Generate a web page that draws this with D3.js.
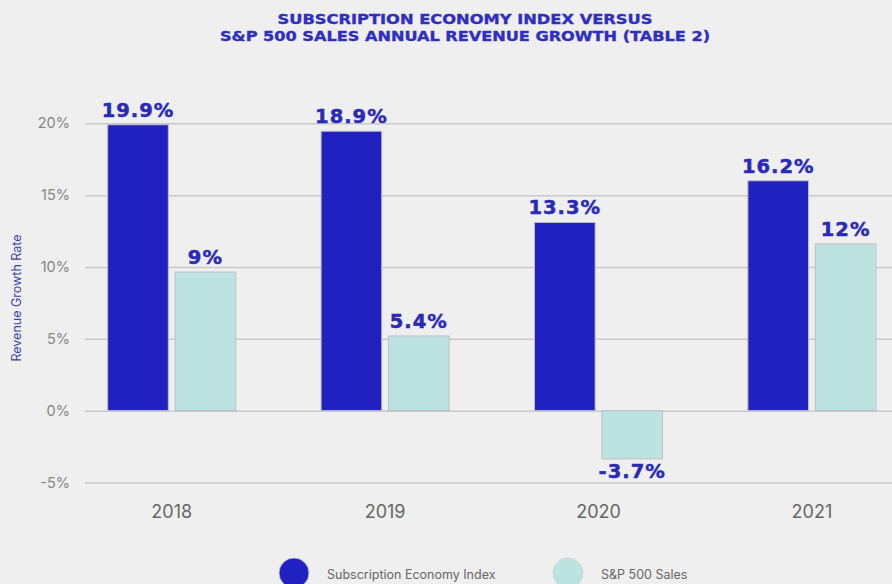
<!DOCTYPE html>
<html>
<head>
<meta charset="utf-8">
<script src="https://cdn.jsdelivr.net/npm/d3@7"></script>
<style>
  body { margin: 0; background: #efefef; }
  svg { display: block; }
</style>
</head>
<body>
<svg width="892" height="584"></svg>
<script>
// values (bar heights) and the printed labels
var years = ["2018", "2019", "2020", "2021"];
var seriesNames = ["Subscription Economy Index", "S&P 500 Sales"];
var seiValues = [19.9, 19.45, 13.1, 16.0];
var spValues = [9.65, 5.2, -3.35, 11.6];
var seiLabels = ["19.9%", "18.9%", "13.3%", "16.2%"];
var spLabels = ["9%", "5.4%", "-3.7%", "12%"];
var yTicks = [-5, 0, 5, 10, 15, 20];
var titleLines = ["SUBSCRIPTION ECONOMY INDEX VERSUS", "S&P 500 SALES ANNUAL REVENUE GROWTH (TABLE 2)"];

var colors = { "Subscription Economy Index": "#2121c2", "S&P 500 Sales": "#bde3e0" };

var rows = years.map(function(yr, i) {
  return { year: yr, vals: [
    { key: seriesNames[0], value: seiValues[i], label: seiLabels[i] },
    { key: seriesNames[1], value: spValues[i], label: spLabels[i] }
  ]};
});

var svg = d3.select("svg");

var x0 = d3.scaleBand()
  .domain(years)
  .range([65, 918.6])
  .paddingInner(0.4)
  .paddingOuter(0.2);

var x1 = d3.scaleBand()
  .domain(seriesNames)
  .range([0, x0.bandwidth()])
  .paddingInner(0.1);

var y = d3.scaleLinear()
  .domain([-5, 20])
  .range([482.5, 123.3]);

// title
svg.append("g")
  .selectAll("text")
  .data(titleLines)
  .enter().append("text")
   .attr("x", 465)
   .attr("y", function(d, i) { return 24 + i * 17; })
   .attr("text-anchor", "middle")
   .attr("font-family", "DejaVu Sans")
   .attr("font-weight", "bold")
   .attr("font-size", 13.5)
   .attr("fill", "#2e2ec0")
   .attr("stroke", "#2e2ec0")
   .attr("stroke-width", 0.35)
   .attr("textLength", function(d, i) { return i == 0 ? 375 : 490; })
   .attr("lengthAdjust", "spacingAndGlyphs")
   .text(function(d) { return d; });

// y axis + grid
var yAxis = svg.append("g")
  .attr("transform", "translate(85,0)")
  .call(d3.axisLeft(y).tickValues(yTicks).tickSizeInner(-807).tickSizeOuter(0).tickPadding(15)
    .tickFormat(function(d) { return d + "%"; }));
yAxis.select(".domain").remove();
yAxis.selectAll(".tick line").attr("stroke", "#c9c9c9").attr("stroke-width", 1.5);
yAxis.selectAll(".tick text")
  .attr("font-family", "Inter")
  .attr("font-size", 14.5)
  .attr("fill", "#858585");

svg.append("text")
  .attr("transform", "translate(21,298) rotate(-90)")
  .attr("text-anchor", "middle")
  .attr("font-family", "Inter")
  .attr("font-size", 12.5)
  .attr("fill", "#3f3fae")
  .text("Revenue Growth Rate");

// bars
var groups = svg.append("g")
  .selectAll("g")
  .data(rows)
  .enter().append("g")
   .attr("transform", function(d) { return "translate(" + x0(d.year) + ",0)"; });

groups.selectAll("rect")
  .data(function(d) { return d.vals; })
  .enter().append("rect")
   .attr("x", function(d) { return x1(d.key); })
   .attr("y", function(d) { return y(Math.max(0, d.value)); })
   .attr("width", x1.bandwidth())
   .attr("height", function(d) { return Math.abs(y(d.value) - y(0)); })
   .attr("fill", function(d) { return colors[d.key]; })
   .attr("stroke", "#bfbfc8")
   .attr("stroke-width", 1);

groups.selectAll("text")
  .data(function(d) { return d.vals; })
  .enter().append("text")
   .attr("x", function(d) { return x1(d.key) + x1.bandwidth() / 2; })
   .attr("y", function(d) { return d.value >= 0 ? y(d.value) - 8 : y(d.value) + 19; })
   .attr("text-anchor", "middle")
   .attr("font-family", "DejaVu Sans")
   .attr("font-weight", "bold")
   .attr("font-size", 19.5)
   .attr("letter-spacing", 1)
   .attr("fill", "#2a2ab8")
   .attr("stroke", "#2a2ab8")
   .attr("stroke-width", 0.5)
   .text(function(d) { return d.label; });

// x axis
var xAxis = svg.append("g")
  .attr("transform", "translate(0,505)")
  .call(d3.axisBottom(x0).tickSize(0).tickPadding(0));
xAxis.select(".domain").remove();
xAxis.selectAll(".tick text")
  .attr("font-family", "Inter")
  .attr("font-size", 18)
  .attr("fill", "#666");

// legend
var legend = svg.append("g")
  .selectAll("g")
  .data(seriesNames)
  .enter().append("g")
   .attr("transform", function(d, i) { return "translate(" + (i == 0 ? 294 : 568) + ",573)"; });

legend.append("circle")
  .attr("r", 15)
  .attr("fill", function(d) { return colors[d]; })
  .attr("stroke", "#cfcfcf")
  .attr("stroke-width", 0.8);

legend.append("text")
  .attr("x", 33)
  .attr("y", 6)
  .attr("font-family", "Inter")
  .attr("font-size", 12.5)
  .attr("fill", "#666")
  .text(function(d) { return d; });
</script>
</body>
</html>
